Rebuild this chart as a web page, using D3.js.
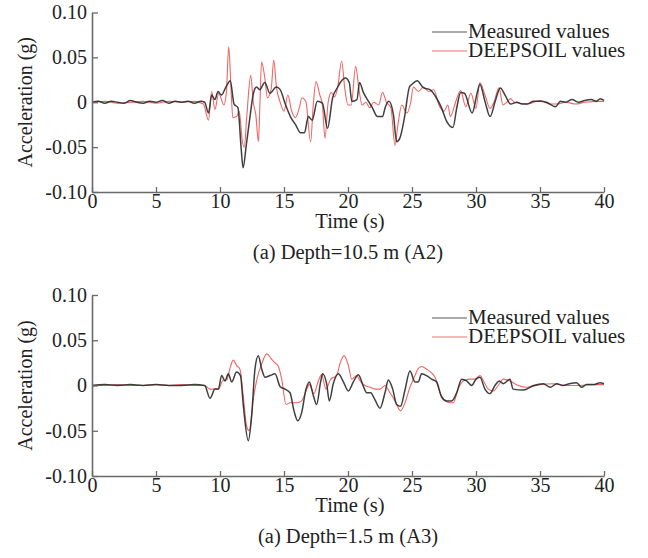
<!DOCTYPE html>
<html>
<head>
<meta charset="utf-8">
<script src="https://cdn.jsdelivr.net/npm/d3@7"></script>
<style>
  body { margin: 0; background: #fff; }
  svg text { font-family: "Liberation Serif", "Times New Roman", serif; fill: #222; }
</style>
</head>
<body>
<div id="chart"></div>
<script>
// time ticks and acceleration ticks
const timeTicks = [0, 5, 10, 15, 20, 25, 30, 35, 40];
const accTicks = [0.10, 0.05, 0, -0.05, -0.10];
const accTickLabels = ["0.10", "0.05", "0", "-0.05", "-0.10"];
const seriesNames = ["Measured values", "DEEPSOIL values"];
const captions = ["(a) Depth=10.5 m (A2)", "(a) Depth=1.5 m (A3)"];

// [time (s), acceleration (g)]
const a2Measured = [[0,0],[0.5,0.001],[1,-0.001],[1.5,0.001],[2,0],[2.5,-0.001],[3,0.002],[3.5,0],[4,-0.001],[4.5,0.001],[5,0],[5.5,0.002],[6,-0.001],[6.5,0.001],[7,0],[7.5,0.001],[8,-0.001],[8.5,0.001],[8.8,0],
  [9.1,-0.012],[9.35,0.008],[9.6,0.003],[9.85,0.012],[10.1,0.008],[10.5,0.018],[10.8,0.024],[11.1,-0.002],[11.4,-0.006],[11.65,-0.051],[11.8,-0.073],[12.06,-0.047],[12.3,-0.021],[12.6,0.009],[12.85,0.017],[13.1,0.014],[13.5,0.022],[13.9,0.010],[14.4,0.017],[14.7,0.014],
  [15.1,-0.002],[15.5,-0.016],[15.9,-0.025],[16.3,-0.034],[16.6,-0.034],[16.9,-0.016],[17.2,-0.020],[17.6,0.001],[18.0,-0.001],[18.4,-0.029],[18.8,0.005],[19.2,0.017],[19.4,0.022],[19.8,0.027],[20.1,0.022],[20.3,0.001],[20.7,0.003],[20.9,0.022],[21.2,0.011],[21.6,0.001],[21.9,-0.006],
  [22.3,-0.016],[22.7,-0.016],[22.9,-0.006],[23.2,0.001],[23.55,-0.014],[23.8,-0.044],[24.05,-0.040],[24.4,-0.018],[24.8,0.017],[25.0,0.020],[25.4,0.024],[25.9,0.016],[26.4,0.014],[26.9,0.005],[27.3,-0.006],[27.7,-0.021],[28.2,-0.028],[28.5,-0.006],[28.8,0.011],[29.1,0.010],
  [29.7,-0.012],[30.1,0.011],[30.3,0.020],[30.7,0.001],[31.1,-0.016],[31.5,0.001],[31.9,0.016],[32.3,0.007],[32.7,-0.002],[33.2,0],[33.6,-0.002],[34.0,-0.002],[34.5,0.001],[35.0,0.001],[35.5,0],[36.2,-0.005],[36.6,0.001],[37.0,0],[37.5,0.003],[38.0,0],[38.5,0.002],[39.0,0.003],[39.4,0.001],[39.7,0.004],[40,0.002]];

const a2Deepsoil = [[0,0],[1,0.001],[2,-0.001],[3,0],[4,0.001],[5,-0.001],[6,0.001],[7,0],[8,0.001],[8.7,-0.002],[9.1,-0.020],[9.35,0.012],[9.6,-0.008],[9.9,0.010],[10.3,-0.003],[10.5,0.011],[10.68,0.062],[10.85,0.019],[11.0,-0.017],[11.3,-0.016],[11.5,-0.010],[11.75,-0.044],[11.9,-0.050],
  [12.1,-0.014],[12.4,0.030],[12.6,0.000],[12.8,-0.014],[13.0,-0.044],[13.1,-0.010],[13.25,0.045],[13.5,0.027],[13.7,0.005],[14.0,0.015],[14.2,0.047],[14.4,0.018],[14.7,0.000],[15.0,-0.010],[15.3,0.008],[15.6,-0.010],[15.9,-0.017],[16.2,-0.006],[16.4,0.005],[16.7,0.001],
  [17.08,-0.044],[17.3,0.000],[17.5,0.023],[17.8,0.008],[18.0,-0.003],[18.2,-0.040],[18.45,0.000],[18.7,0.011],[18.95,0.006],[19.2,0.017],[19.5,0.046],[19.75,0.015],[20.0,-0.003],[20.25,-0.003],[20.6,0.040],[20.85,0.015],[21.1,-0.003],[21.4,0.000],[21.7,-0.006],[22.0,0.000],
  [22.4,-0.003],[22.7,0.011],[23.0,0.000],[23.35,-0.006],[23.67,-0.048],[23.9,-0.025],[24.2,-0.003],[24.6,-0.012],[24.9,0.000],[25.1,0.017],[25.5,0.012],[25.9,0.017],[26.3,0.012],[26.7,0.014],[27.1,-0.003],[27.5,-0.010],[27.8,-0.003],[28.0,-0.016],[28.4,0.000],[28.8,0.013],
  [29.2,-0.005],[29.6,0.010],[30.0,-0.007],[30.3,0.022],[30.7,0.008],[31.1,-0.007],[31.4,0.000],[31.8,0.016],[32.1,-0.003],[32.4,0.000],[32.7,0.004],[33.0,0.000],[34.0,-0.002],[35.0,0.002],[35.8,-0.002],[36.3,-0.002],[37.0,0.000],[37.8,-0.002],[38.5,0.000],[39.7,0.001],[40,0.001]];

const a3Measured = [[0,0],[1,0.001],[2,0],[3,0.001],[4,0],[5,0.001],[6,0],[7,0],[8,0.001],[8.8,0],[9.22,-0.014],[9.61,-0.004],[9.87,-0.004],[10.13,0.011],[10.39,0.005],[10.65,0.013],[10.91,0.004],[11.3,0.015],[11.6,0.011],[11.82,-0.022],[12.21,-0.061],[12.47,-0.034],[12.73,0.018],
  [12.99,0.033],[13.26,0.018],[13.52,0.009],[13.91,0.011],[14.3,0.013],[14.69,-0.001],[15.08,-0.004],[15.47,-0.008],[15.78,-0.028],[16.07,-0.039],[16.38,-0.030],[16.72,-0.004],[16.98,0.004],[17.29,-0.011],[17.55,-0.021],[17.86,0.004],[18.02,0.013],[18.33,0.002],[18.54,-0.017],
  [18.85,0.002],[19.24,0.013],[19.64,0.004],[20.03,-0.006],[20.42,0.004],[20.81,0.012],[21.2,-0.001],[21.46,-0.008],[21.77,-0.008],[22.11,-0.016],[22.5,-0.025],[22.89,-0.008],[23.15,0.006],[23.49,-0.004],[23.8,-0.021],[24.1,-0.023],[24.45,-0.005],[24.84,0.016],[25.23,0.004],
  [25.49,0.004],[25.75,0.013],[26.14,0.011],[26.53,0.007],[26.92,0.004],[27.32,-0.013],[27.71,-0.017],[28.1,-0.017],[28.49,-0.008],[28.88,0.007],[29.27,0.005],[29.66,0],[30.0,0.007],[30.31,0.009],[30.7,-0.004],[31.09,-0.009],[31.48,0],[31.82,0.005],[32.13,0.002],[32.65,0.007],
  [32.9,-0.004],[33.7,-0.005],[34.5,0],[35.26,0.002],[35.8,-0.002],[36.3,0.002],[36.8,0],[37.3,0.002],[37.86,0.003],[38.25,-0.002],[38.64,0.001],[39.16,0.001],[39.7,0.003],[40,0.002]];

const a3Deepsoil = [[0,0],[1,0],[2,0.001],[3,0],[4,0],[5,0.001],[6,0],[7,0.001],[8,0],[8.8,0],[9.22,-0.004],[9.87,-0.004],[10.26,0.006],[10.52,0.006],[10.78,0.019],[11.04,0.028],[11.3,0.022],[11.56,0.018],[11.82,-0.012],[12.08,-0.045],[12.29,-0.050],[12.6,-0.015],[12.9,0.008],
  [13.26,0.024],[13.65,0.035],[14.04,0.029],[14.3,0.025],[14.56,0.021],[14.82,0.007],[15.16,-0.021],[15.47,-0.019],[16.0,-0.019],[16.38,-0.017],[16.72,-0.006],[16.98,0.001],[17.34,-0.009],[17.68,0.005],[17.94,0.012],[18.28,-0.004],[18.65,0.007],[19.11,0.011],[19.37,0.024],
  [19.69,0.033],[20.03,0.022],[20.29,0.007],[20.68,0.011],[20.94,0.005],[21.33,0],[21.72,-0.002],[22.11,-0.004],[22.5,-0.004],[22.89,0],[23.28,-0.008],[23.67,-0.017],[24.1,-0.028],[24.45,-0.019],[24.84,-0.002],[25.23,0.011],[25.5,0.019],[25.75,0.021],[26.14,0.018],[26.53,0.014],
  [26.8,0.009],[27.19,-0.008],[27.6,-0.017],[27.97,-0.019],[28.23,-0.019],[28.6,-0.004],[29.0,0.005],[29.53,0.007],[29.92,0.007],[30.31,0.011],[30.7,0.002],[30.96,-0.004],[31.35,-0.006],[31.74,0],[32.13,0.007],[32.65,0.005],[33.3,0],[33.96,-0.002],[35.0,0.001],[36.04,0.002],
  [37.08,0],[38.1,0],[39.16,0.001],[40,0.001]];

const width = 648, height = 558;
const colors = ["#2a2a2a", "#ee4a4a"];

const svg = d3.select("#chart").append("svg")
    .attr("width", width)
    .attr("height", height);

const panels = [
  { series: [a2Measured, a2Deepsoil], top: 12.5, bottom: 192, legendY: 32, caption: captions[0] },
  { series: [a3Measured, a3Deepsoil], top: 295, bottom: 476, legendY: 318, caption: captions[1] }
];

const x = d3.scaleLinear().domain([0, 40]).range([92, 604]);

panels.forEach(p => {
  const y = d3.scaleLinear().domain([-0.10, 0.10]).range([p.bottom, p.top]);
  const g = svg.append("g");

  const line = d3.line()
      .x(d => x(d[0]))
      .y(d => y(d[1]))
      .curve(d3.curveMonotoneX);

  // red first so the measured trace sits on top
  [1, 0].forEach(i => {
    g.append("path")
      .datum(p.series[i])
      .attr("fill", "none")
      .attr("stroke", colors[i])
      .attr("stroke-width", i === 0 ? 1.5 : 1.1)
      .attr("stroke-opacity", i === 0 ? 0.9 : 0.85)
      .attr("stroke-linejoin", "round")
      .attr("d", line);
  });

  const yAxis = g.append("g")
      .attr("transform", `translate(${x(0)},0)`)
      .call(d3.axisLeft(y)
        .tickValues(accTicks)
        .tickFormat((d, i) => accTickLabels[i])
        .tickSizeInner(-6)
        .tickSizeOuter(0)
        .tickPadding(5));

  const xAxis = g.append("g")
      .attr("transform", `translate(0,${p.bottom})`)
      .call(d3.axisBottom(x)
        .tickValues(timeTicks)
        .tickSizeInner(-5)
        .tickSizeOuter(0)
        .tickPadding(2));

  [xAxis, yAxis].forEach(a => {
    a.select(".domain").attr("stroke", "#6a6a6a").attr("stroke-width", 1.6);
    a.selectAll(".tick line").attr("stroke", "#6a6a6a").attr("stroke-width", 1.3);
    a.selectAll(".tick text").attr("font-size", 20).attr("fill", "#222")
      .style("font-family", "'Liberation Serif', serif");
  });

  g.append("text")
    .attr("transform", `translate(27,${(p.top + p.bottom) / 2}) rotate(-90)`)
    .attr("text-anchor", "middle")
    .attr("dominant-baseline", "middle")
    .attr("font-size", 20)
    .text("Acceleration (g)");

  g.append("text")
    .attr("x", 350)
    .attr("y", p.bottom + 36)
    .attr("text-anchor", "middle")
    .attr("font-size", 20.5)
    .text("Time (s)");

  g.append("text")
    .attr("x", 348)
    .attr("y", p.bottom + 67)
    .attr("text-anchor", "middle")
    .attr("font-size", 20.5)
    .text(p.caption);

  // legend
  seriesNames.forEach((name, i) => {
    const ly = p.legendY + i * 19;
    g.append("line")
      .attr("x1", 432).attr("x2", 467)
      .attr("y1", ly).attr("y2", ly)
      .attr("stroke", colors[i])
      .attr("stroke-width", 1.2)
      .attr("stroke-opacity", 0.8);
    g.append("text")
      .attr("x", 468)
      .attr("y", ly + 6)
      .attr("font-size", 21)
      .text(name);
  });
});
</script>
</body>
</html>
